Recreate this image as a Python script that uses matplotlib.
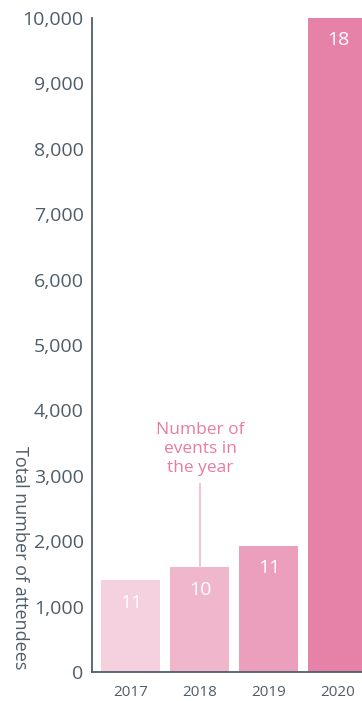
import matplotlib.pyplot as plt

plt.rcParams['font.family'] = ['Open Sans', 'DejaVu Sans']

years = ['2017', '2018', '2019', '2020']
attendees = [1400, 1600, 1930, 10000]
events = [11, 10, 11, 18]
colors = ['#f5d0de', '#f0b6cc', '#eb9fbd', '#e682a7']

axis_col = '#4f5d69'
pink_text = '#e97ba3'

fig = plt.figure(figsize=(3.62, 7.01), dpi=100)
ax = fig.add_axes([92/362, 29/701, 1 - 92/362, (672-18)/701])

x = range(len(years))
bars = ax.bar(x, attendees, width=0.855, color=colors, clip_on=True)

for b, n in zip(bars, events):
    ax.annotate(str(n), (b.get_x() + b.get_width()/2, b.get_height()),
                xytext=(0, -16), textcoords='offset points',
                ha='center', va='center', color='white', fontsize=14)

# callout for the event counts
ax.plot([1, 1], [attendees[1], 2880], color='#f5c6d8', lw=1.5)
ax.text(1, 3410, 'Number of\nevents in\nthe year', ha='center', va='center',
        color=pink_text, fontsize=12.5, linespacing=1.22)

ax.set_xlim(-0.565, 3.348)
ax.set_ylim(0, 10000)
ax.set_yticks(range(0, 10001, 1000))
ax.set_yticklabels([f'{v:,}' for v in range(0, 10001, 1000)])
ax.set_xticks(list(x))
ax.set_xticklabels(years)

for s in ['top', 'right']:
    ax.spines[s].set_visible(False)
for s in ['left', 'bottom']:
    ax.spines[s].set_color(axis_col)
    ax.spines[s].set_linewidth(1.3)

ax.tick_params(axis='y', length=0, pad=6, labelsize=14, labelcolor=axis_col)
ax.tick_params(axis='x', length=0, pad=9, labelsize=11, labelcolor=axis_col)

fig.text(20/362, 1 - 558/701, 'Total number of attendees', rotation=270,
         ha='center', va='center', color=axis_col, fontsize=13)

fig.savefig('out.png', dpi=100)
